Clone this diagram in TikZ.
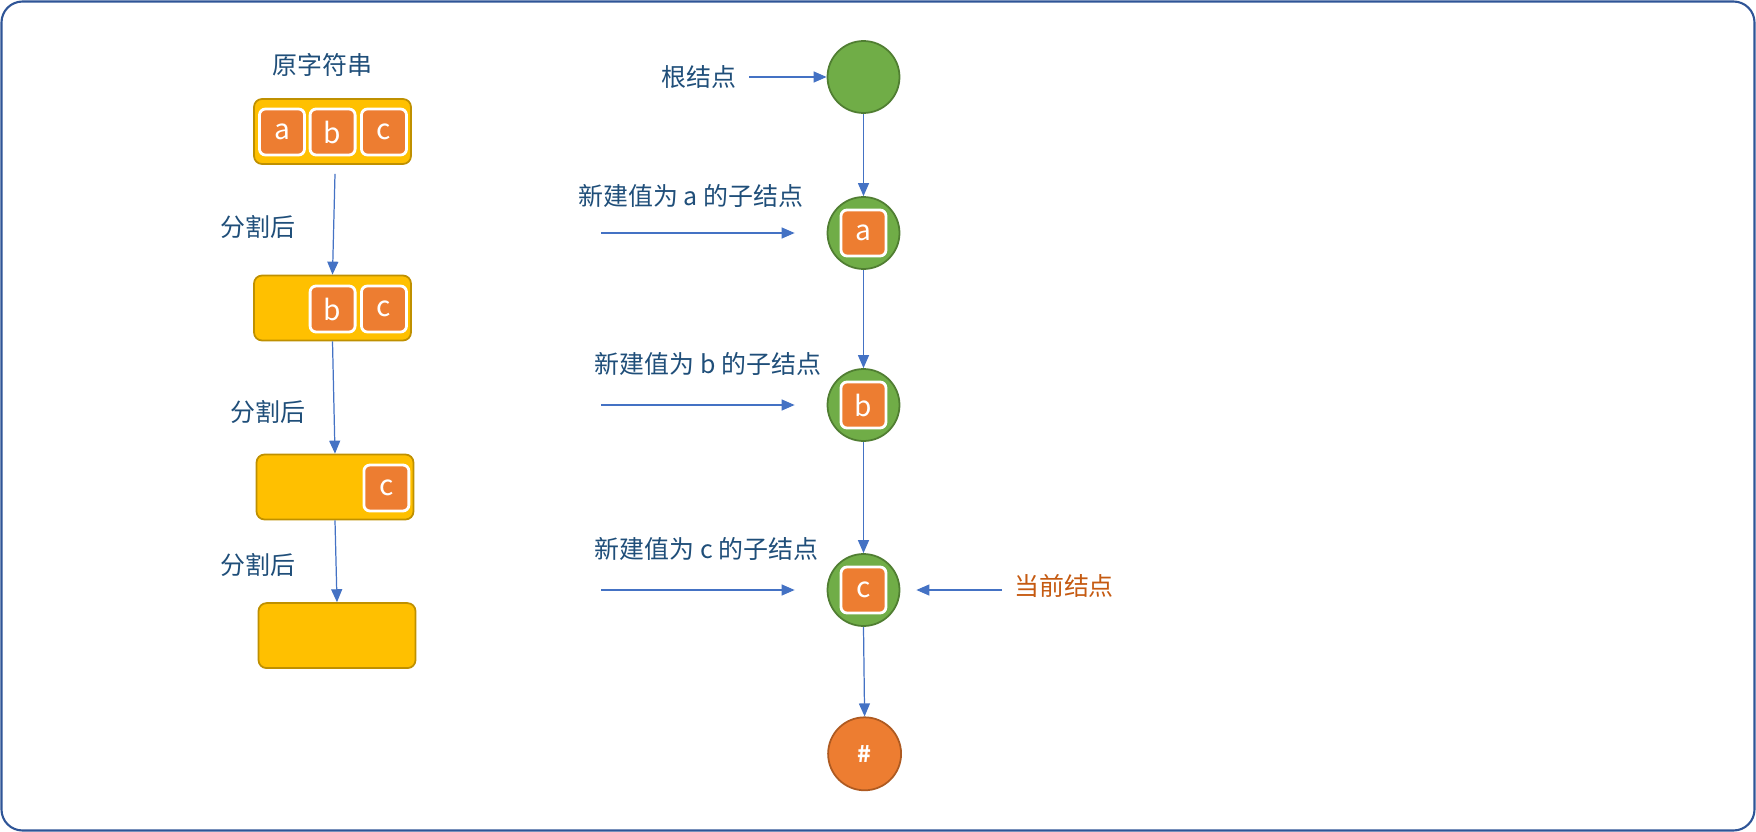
\documentclass[tikz,border=0pt]{standalone}
\usepackage{fontspec}
\setmainfont{Noto Sans CJK SC}
\usetikzlibrary{arrows.meta}
\definecolor{frameblue}{HTML}{2F5597}
\definecolor{txtblue}{HTML}{1F4E79}
\definecolor{arrblue}{HTML}{4472C4}
\definecolor{boxfill}{HTML}{FFC000}
\definecolor{boxline}{HTML}{BF9000}
\definecolor{orfill}{HTML}{ED7D31}
\definecolor{orline}{HTML}{AE5A21}
\definecolor{grfill}{HTML}{70AD47}
\definecolor{grline}{HTML}{507E32}
\definecolor{curtxt}{HTML}{C55A11}
\begin{document}
\begin{tikzpicture}[x=0.02cm,y=-0.02cm,
  lbl/.style={text=txtblue,font=\fontsize{14.2pt}{17pt}\selectfont,inner sep=0pt},
  strbox/.style={draw=boxline,fill=boxfill,line width=1pt,rounded corners=0.16cm,minimum width=3.14cm,minimum height=1.3cm,inner sep=0pt},
  chbox/.style={draw=white,fill=orfill,line width=1.6pt,rounded corners=0.12cm,minimum width=0.9cm,minimum height=0.92cm,inner sep=0pt,text=white,font=\fontsize{16pt}{18pt}\selectfont},
  tnode/.style={circle,draw=grline,fill=grfill,line width=1pt,minimum size=1.44cm,inner sep=0pt},
  endnode/.style={circle,draw=orline,fill=orfill,line width=1pt,minimum size=1.46cm,inner sep=0pt,text=white,font=\fontsize{13pt}{15pt}\selectfont\bfseries},
  arr/.style={draw=arrblue,line width=0.7pt,-{Triangle[length=0.26cm,width=0.22cm]}}
]
\useasboundingbox (0,0) rectangle (1756,832);
\draw[frameblue,line width=1.2pt,rounded corners=0.42cm] (1.5,1.5) rectangle (1754.5,830.5);

% left column
\node[lbl] (title) at (322.5,65) {原字符串};
\node[strbox] (b1) at (332.5,131.5) {};
\node[chbox] (b1a) at (282,132) {a};
\node[chbox] (b1b) at (332.6,132) {b};
\node[chbox] (b1c) at (384,132) {c};

\node[strbox] (b2) at (332.5,308) {};
\node[chbox] (b2b) at (332.6,309) {b};
\node[chbox] (b2c) at (384,309) {c};

\node[strbox] (b3) at (335,487) {};
\node[chbox] (b3c) at (386.4,488) {c};

\node[strbox] (b4) at (337,635.6) {};

\node[lbl] (s1) at (257.6,227) {分割后};
\node[lbl] (s2) at (267.7,412) {分割后};
\node[lbl] (s3) at (257.6,564.5) {分割后};

\draw[arr] ([shift={(2.5,9)}]b1.south) -- (b2.north);
\draw[arr] (b2.south) -- (b3.north);
\draw[arr] (b3.south) -- (b4.north);

% right column
\node[tnode] (root) at (863.5,77) {};
\node[tnode] (na) at (863.5,233) {};
\node[chbox] (nai) at (863.5,233) {a};
\node[tnode] (nb) at (863.5,405) {};
\node[chbox] (nbi) at (863.5,405) {b};
\node[tnode] (nc) at (863.5,590) {};
\node[chbox] (nci) at (863.5,590) {c};
\node[endnode] (nh) at (864.6,753.8) {\#};

\draw[arr] (root.south) -- (na.north);
\draw[arr] (na.south) -- (nb.north);
\draw[arr] (nb.south) -- (nc.north);
\draw[arr] (nc.south) -- (nh.north);

\node[lbl] (lroot) at (699,77) {根结点};
\coordinate (sroot) at (749,77);
\draw[arr] (sroot) -- (root.west);

\node[lbl] (la) at (691,196) {新建值为 a 的子结点};
\coordinate (sa) at (601,233);
\draw[arr] (sa) -- ([shift={(-32,0)}]na.west);

\node[lbl] (lb) at (708,364) {新建值为 b 的子结点};
\coordinate (sb) at (601,405);
\draw[arr] (sb) -- ([shift={(-32,0)}]nb.west);

\node[lbl] (lc) at (706.7,549) {新建值为 c 的子结点};
\coordinate (sc) at (601,590);
\draw[arr] (sc) -- ([shift={(-32,0)}]nc.west);

\node[lbl,text=curtxt] (cur) at (1064,586) {当前结点};
\coordinate (scur) at (1002,590);
\draw[arr] (scur) -- ([shift={(16,0)}]nc.east);
\end{tikzpicture}
\end{document}
